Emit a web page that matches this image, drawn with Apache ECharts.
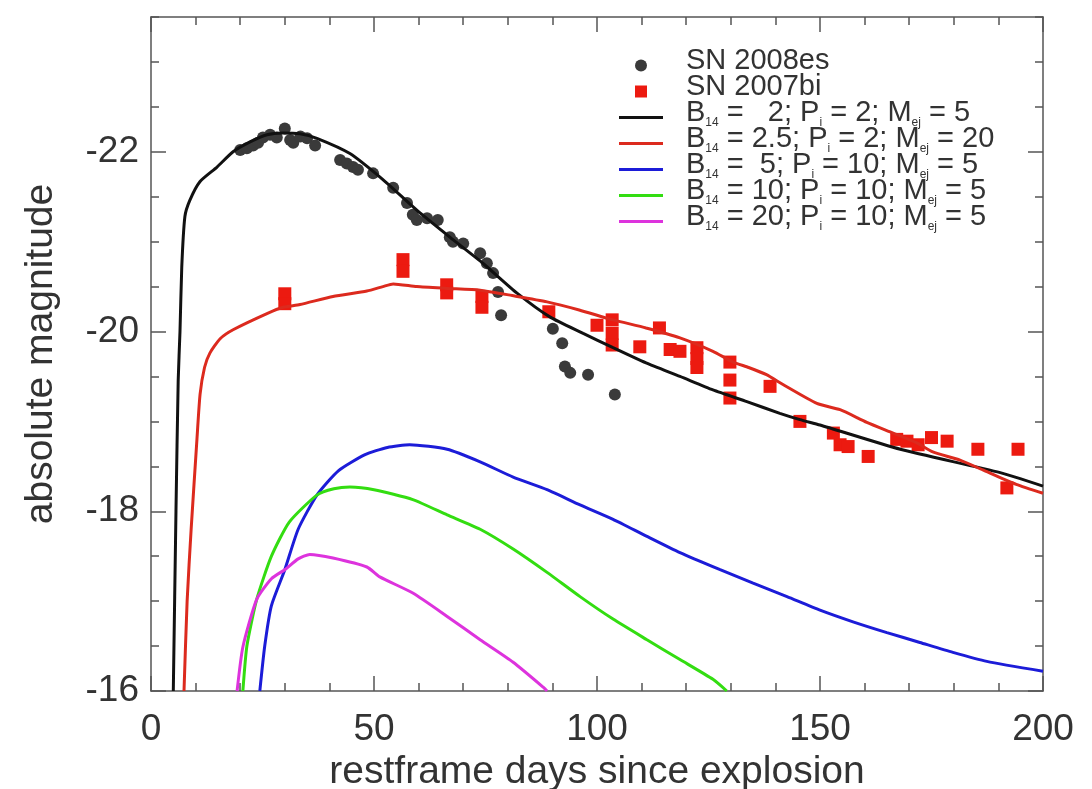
<!DOCTYPE html>
<html>
<head>
<meta charset="utf-8">
<script src="https://cdn.jsdelivr.net/npm/echarts@6/dist/echarts.min.js"></script>
<style>
  html, body { margin: 0; background: #fff; }
  #chart { width: 1092px; height: 789px; }
</style>
</head>
<body>
<div id="chart"></div>
<script>
// restframe day, absolute magnitude
const sn2008es = [
  [20, -22.02], [21.5, -22.04], [22.9, -22.07], [24, -22.1], [25.1, -22.16], [26.7, -22.19],
  [28.2, -22.16], [30, -22.26], [31.2, -22.13], [31.9, -22.1], [33.5, -22.17], [35, -22.15],
  [36.8, -22.07], [42.4, -21.91], [43.9, -21.87], [45.3, -21.83], [46.4, -21.8], [49.8, -21.76],
  [54.3, -21.6], [57.4, -21.43], [58.7, -21.3], [59.6, -21.24], [61.9, -21.26], [64.3, -21.24],
  [67, -21.05], [67.7, -21.0], [70, -20.98], [73.8, -20.87], [75.3, -20.76], [76.7, -20.65],
  [77.8, -20.44], [78.5, -20.18], [90.1, -20.03], [92.2, -19.87], [92.8, -19.61], [94, -19.54],
  [98, -19.52], [104, -19.3]
]
const sn2007bi = [
  [30, -20.42], [30, -20.31], [56.5, -20.8], [56.5, -20.67], [66.3, -20.52], [66.3, -20.43],
  [74.2, -20.39], [74.2, -20.27], [89.2, -20.22], [100, -20.07], [103.4, -20.13], [103.4, -19.98],
  [103.4, -19.85], [109.6, -19.83], [114, -20.04], [116.4, -19.8], [118.6, -19.78], [122.4, -19.82],
  [122.4, -19.7], [122.4, -19.6], [129.8, -19.66], [129.8, -19.46], [129.8, -19.26], [138.8, -19.39],
  [145.5, -19.0], [153, -18.87], [154.5, -18.74], [156.3, -18.72], [160.8, -18.61], [167.2, -18.8],
  [169.5, -18.78], [172, -18.74], [175, -18.82], [178.5, -18.78], [185.4, -18.69], [191.9, -18.26],
  [194.4, -18.69]
]
// magnetar models
const modelB2 = [
  [5.0, -16.0], [5.6, -18.0], [6.1, -19.46], [6.5, -20.0], [6.9, -20.72], [7.6, -21.28],
  [8.7, -21.46], [11, -21.67], [14.8, -21.83], [18.4, -22.0], [22.2, -22.11], [26, -22.19],
  [29.6, -22.21], [33.4, -22.2], [37.2, -22.15], [44.6, -21.98], [52, -21.69], [59.6, -21.35],
  [67, -21.05], [74.4, -20.76], [82, -20.43], [89.5, -20.16], [96.9, -19.98], [103.6, -19.82],
  [111, -19.65], [118.6, -19.5], [126, -19.35], [133.6, -19.22], [141, -19.09], [145.5, -19.02],
  [150, -18.96], [168, -18.69], [190.4, -18.43], [200, -18.28]
]
const modelB25 = [
  [7.4, -16.0], [8.1, -17.0], [9.0, -17.8], [10.3, -18.8], [11.0, -19.3], [12.0, -19.6],
  [13.2, -19.76], [15.5, -19.92], [18.4, -20.02], [26, -20.2], [29.6, -20.27], [33.4, -20.3],
  [40.8, -20.39], [48.4, -20.45], [52, -20.5], [54.3, -20.53], [59.6, -20.5], [66.4, -20.48],
  [73.8, -20.46], [81, -20.4], [88.8, -20.33], [96, -20.24], [103.6, -20.13], [111, -20.04],
  [118.6, -19.93], [126, -19.78], [130.5, -19.66], [134, -19.6], [138, -19.52], [141.7, -19.41],
  [149.3, -19.2], [154.5, -19.13], [160.5, -18.99], [166.4, -18.87], [171.7, -18.76], [175.3, -18.66],
  [181.4, -18.57], [186.5, -18.46], [194, -18.3], [200, -18.2]
]
const modelB5 = [
  [24.4, -16.0], [25.5, -16.5], [27, -16.95], [30, -17.35], [33, -17.8], [37.2, -18.18],
  [42, -18.45], [48, -18.63], [53, -18.71], [58, -18.74], [66.4, -18.69], [73.8, -18.55],
  [81.2, -18.38], [88.8, -18.24], [96.2, -18.07], [103.6, -17.91], [111.2, -17.72], [118.6, -17.54],
  [127.6, -17.35], [135, -17.2], [142.6, -17.05], [150, -16.9], [157.4, -16.77], [165, -16.65],
  [172.4, -16.54], [179.8, -16.43], [187.4, -16.33], [200, -16.22]
]
const modelB10 = [
  [20.6, -16.0], [21.5, -16.5], [23.7, -17.02], [27, -17.5], [31, -17.88], [37.2, -18.18],
  [41, -18.25], [44.6, -18.27], [50, -18.24], [58.7, -18.13], [66.4, -17.96], [73.8, -17.8],
  [81.2, -17.58], [88.8, -17.32], [96.2, -17.05], [103.6, -16.8], [111.2, -16.57], [118.6, -16.35],
  [126, -16.13], [129.1, -16.0]
]
const modelB20 = [
  [19.3, -16.0], [20.6, -16.49], [23.7, -17.02], [27, -17.25], [30, -17.35], [33, -17.47],
  [35.6, -17.52], [40.8, -17.48], [48.4, -17.38], [51.3, -17.27], [58.7, -17.09], [66.4, -16.83],
  [73.8, -16.57], [81.2, -16.32], [88, -16.04], [88.8, -16.0]
]
const yLabelValues = [-22, -20, -18, -16]

const font = '"Liberation Sans", Arial, Helvetica, sans-serif'
const frame = '#555'

// legend text, B_14 / P_i / M_ej written with subscripts
const legendText = {
  'SN 2008es': '{t|SN 2008es}{s| }',
  'SN 2007bi': '{t|SN 2007bi}{s| }',
  m1: '{t|B}{s|14}{t| =   2; P}{s|i}{t| = 2; M}{s|ej}{t| = 5}',
  m2: '{t|B}{s|14}{t| = 2.5; P}{s|i}{t| = 2; M}{s|ej}{t| = 20}',
  m3: '{t|B}{s|14}{t| =  5; P}{s|i}{t| = 10; M}{s|ej}{t| = 5}',
  m4: '{t|B}{s|14}{t| = 10; P}{s|i}{t| = 10; M}{s|ej}{t| = 5}',
  m5: '{t|B}{s|14}{t| = 20; P}{s|i}{t| = 10; M}{s|ej}{t| = 5}'
}
const lineIcon = 'path://M0,0h44v3h-44z'

function xAxisAt(position, showLabel) {
  return {
    type: 'value',
    position: position,
    min: 0,
    max: 200,
    interval: 50,
    axisLine: { show: true, onZero: false, lineStyle: { color: frame, width: 1.5 } },
    axisTick: { show: true, inside: true, length: 15, lineStyle: { color: frame, width: 1.5 } },
    minorTick: { show: true, splitNumber: 5, length: 8, lineStyle: { color: frame, width: 1.5 } },
    axisLabel: { show: showLabel, fontSize: 37, color: '#333', fontFamily: font, margin: 20 },
    splitLine: { show: false },
    minorSplitLine: { show: false }
  }
}

function yAxisAt(position, major, showLabel) {
  return {
    type: 'value',
    position: position,
    inverse: true,
    min: -23.5,
    max: -16,
    interval: 0.5,
    axisLine: { show: !major, onZero: false, lineStyle: { color: frame, width: 1.5 } },
    axisTick: major
      ? { show: true, inside: true, length: 15, customValues: yLabelValues, lineStyle: { color: frame, width: 1.5 } }
      : { show: true, inside: true, length: 8, lineStyle: { color: frame, width: 1.5 } },
    axisLabel: {
      show: showLabel,
      fontSize: 37,
      color: '#333',
      fontFamily: font,
      margin: 12,
      padding: [8, 0, 0, 0],
      formatter: v => (yLabelValues.indexOf(v) >= 0 ? String(v) : '')
    },
    splitLine: { show: false }
  }
}

const lineSeries = (name, data, color) => ({
  name: name,
  type: 'line',
  data: data,
  symbol: 'none',
  smooth: 0.2,
  clip: true,
  lineStyle: { color: color, width: 3 },
  itemStyle: { color: color },
  z: 3
})

const option = {
  backgroundColor: '#fff',
  animation: false,
  grid: { left: 151, top: 17, width: 892, height: 674, outerBoundsMode: 'none', containLabel: false },
  xAxis: [
    Object.assign(xAxisAt('bottom', true), {
      name: 'restframe days since explosion',
      nameLocation: 'middle',
      nameGap: 61,
      nameTextStyle: { fontSize: 39, color: '#333', fontFamily: font }
    }),
    xAxisAt('top', false)
  ],
  yAxis: [
    Object.assign(yAxisAt('left', false, true), {
      name: 'absolute magnitude',
      nameLocation: 'middle',
      nameGap: 90,
      nameTextStyle: { fontSize: 39, color: '#333', fontFamily: font }
    }),
    yAxisAt('left', true, false),
    yAxisAt('right', false, false),
    yAxisAt('right', true, false)
  ],
  legend: {
    orient: 'vertical',
    left: 614,
    top: 41,
    itemGap: -5,
    itemWidth: 44,
    itemHeight: 12,
    formatter: name => legendText[name],
    textStyle: {
      color: '#333',
      fontFamily: font,
      fontSize: 29,
      padding: [0, 0, 8, 18],
      rich: {
        t: { fontSize: 29, verticalAlign: 'top', fontFamily: font, color: '#333' },
        s: { fontSize: 12, padding: [19, 0, 0, 0], verticalAlign: 'top', fontFamily: font, color: '#333' }
      }
    },
    data: [
      { name: 'SN 2008es', icon: 'circle' },
      { name: 'SN 2007bi', icon: 'path://M0,0h10v10h-10z' },
      { name: 'm1', icon: lineIcon, itemStyle: { borderWidth: 0 } },
      { name: 'm2', icon: lineIcon, itemStyle: { borderWidth: 0 } },
      { name: 'm3', icon: lineIcon, itemStyle: { borderWidth: 0 } },
      { name: 'm4', icon: lineIcon, itemStyle: { borderWidth: 0 } },
      { name: 'm5', icon: lineIcon, itemStyle: { borderWidth: 0 } }
    ]
  },
  series: [
    {
      name: 'SN 2008es',
      type: 'scatter',
      data: sn2008es,
      symbol: 'circle',
      symbolSize: 12,
      itemStyle: { color: '#3a3a3a', opacity: 1 },
      z: 2
    },
    {
      name: 'SN 2007bi',
      type: 'scatter',
      data: sn2007bi,
      symbol: 'rect',
      symbolSize: 13,
      itemStyle: { color: '#ec1a10', opacity: 1 },
      z: 2
    },
    lineSeries('m1', modelB2, '#111111'),
    lineSeries('m2', modelB25, '#dc2a1e'),
    lineSeries('m3', modelB5, '#1c1cd8'),
    lineSeries('m4', modelB10, '#33dd11'),
    lineSeries('m5', modelB20, '#dd33dd')
  ]
}

const chart = echarts.init(document.getElementById('chart'))
chart.setOption(option)
</script>
</body>
</html>
